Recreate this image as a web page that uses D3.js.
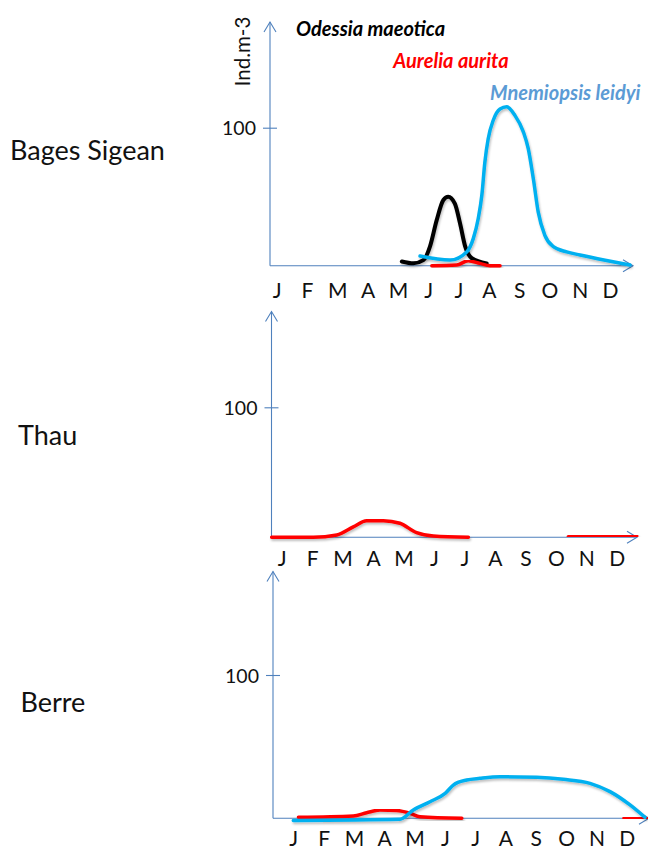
<!DOCTYPE html>
<html>
<head>
<meta charset="utf-8">
<script src="https://cdn.jsdelivr.net/npm/d3@7"></script>
<style>
  html, body { margin: 0; padding: 0; background: #ffffff; }
  svg { display: block; }
</style>
</head>
<body>
<svg id="chart" width="648" height="848"></svg>
<script>
// ---------------- DATA ----------------
const months = ["J","F","M","A","M","J","J","A","S","O","N","D"];
const sites = ["Bages Sigean", "Thau", "Berre"];
const yTickValues = [100];
const yAxisTitle = "Ind.m-3";
const speciesNames = ["Odessia maeotica", "Aurelia aurita", "Mnemiopsis leidyi"];

// [month position (0 = Jan), individuals per m3]
const bagesOdessia = [[4.13,3],[4.51,1.7],[4.84,4],[5.06,14],[5.28,33],[5.50,47.6],[5.66,50],[5.88,45],[6.05,30.7],[6.22,14],[6.44,5.4],[6.93,1.7]];
const bagesAurelia = [[5.12,0],[5.94,0.5],[6.32,3.6],[6.71,1.7],[7.04,0],[7.37,0]];
const bagesMnemiopsis = [[4.73,7],[5.72,4.1],[6.27,10],[6.49,19.8],[6.65,34],[6.77,51],[6.87,75],[6.98,92],[7.15,105.6],[7.37,113.6],[7.59,115.2],[7.86,109],[8.14,97],[8.30,85],[8.47,63],[8.63,39],[8.85,22],[9.13,13.8],[9.57,10],[10.01,7.8],[10.84,4],[11.66,0.5]];

const thauAureliaA = [[-0.33,0],[1.04,0],[1.81,1.8],[2.35,8],[2.79,12.8],[3.34,12.8],[3.88,10.8],[4.43,3.6],[4.98,1],[6.13,0]];
const thauAureliaB = [[9.41,0.5],[11.66,1]];

const berreAureliaA = [[0.17,0.7],[1.98,1.6],[2.42,3.9],[2.86,5.8],[3.41,5.4],[3.85,3.5],[4.18,1.1],[5.56,0]];
const berreAureliaB = [[10.91,0],[11.7,0.7]];
const berreMnemiopsis = [[0,-1.5],[3.52,-0.7],[3.96,5.8],[4.51,11.6],[5.01,17.4],[5.28,23.2],[5.72,26.7],[6.16,27.9],[6.82,29],[8.03,28.6],[8.91,27.2],[9.79,24.4],[10.45,18.6],[11.11,9.3],[11.6,0.7]];

// ---------------- STYLE / LAYOUT ----------------
const axisColor = "#4f81bd";
const colors = { odessia: "#000000", aurelia: "#ff0000", mnemiopsis: "#00b0f0" };
const widths = { odessia: 4, aurelia: 3.5, mnemiopsis: 3.5 };
const font = "Lato, 'Open Sans', sans-serif";

const panels = [
  { name: sites[0], nameX: 10, nameY: 160, axisX: 270, base: 265.7, top: 22, xEnd: 633, y100: 127.7,
    m0: 276.7, m11: 610, monthY: 297.5,
    series: [
      { data: bagesOdessia, key: "odessia" },
      { data: bagesMnemiopsis, key: "mnemiopsis" },
      { data: bagesAurelia, key: "aurelia" }
    ] },
  { name: sites[1], nameX: 18, nameY: 445, axisX: 271.5, base: 537.3, top: 311.5, xEnd: 637, y100: 407.3,
    m0: 281.7, m11: 616.7, monthY: 566.4,
    series: [
      { data: thauAureliaA, key: "aurelia" },
      { data: thauAureliaB, key: "aurelia" }
    ] },
  { name: sites[2], nameX: 20.5, nameY: 711.7, axisX: 273, base: 818.3, top: 571.5, xEnd: 649, y100: 675,
    m0: 293.3, m11: 626.7, monthY: 845.5,
    series: [
      { data: berreAureliaA, key: "aurelia" },
      { data: berreAureliaB, key: "aurelia" },
      { data: berreMnemiopsis, key: "mnemiopsis" }
    ] }
];

const svg = d3.select("#chart");
const defs = svg.append("defs");
defs.append("marker")
  .attr("id", "arrow")
  .attr("viewBox", "-12 -8 14 16")
  .attr("refX", 0).attr("refY", 0)
  .attr("markerWidth", 14).attr("markerHeight", 16)
  .attr("markerUnits", "userSpaceOnUse")
  .attr("orient", "auto")
  .append("path")
  .attr("d", "M-10,-6L0,0L-10,6")
  .attr("fill", "none")
  .attr("stroke", axisColor)
  .attr("stroke-width", 1.1);

const shadow = defs.append("filter").attr("id", "shadow")
  .attr("x", "-10%").attr("y", "-10%").attr("width", "120%").attr("height", "140%");
shadow.append("feDropShadow")
  .attr("dx", 1).attr("dy", 2).attr("stdDeviation", 1.2)
  .attr("flood-color", "#000").attr("flood-opacity", 0.25);

panels.forEach(p => {
  const x = d3.scaleLinear().domain([0, 11]).range([p.m0, p.m11]);
  const y = d3.scaleLinear().domain([0, 100]).range([p.base, p.y100]);
  const g = svg.append("g");

  // site name
  g.append("text")
    .attr("x", p.nameX).attr("y", p.nameY)
    .attr("font-family", font).attr("font-size", 27)
    .attr("fill", "#111")
    .text(p.name);

  // axes lines with arrows
  g.append("line")
    .attr("x1", p.axisX).attr("y1", p.base)
    .attr("x2", p.axisX).attr("y2", p.top)
    .attr("stroke", axisColor).attr("stroke-width", 1.1)
    .attr("marker-end", "url(#arrow)");
  g.append("line")
    .attr("x1", p.axisX).attr("y1", p.base)
    .attr("x2", p.xEnd).attr("y2", p.base)
    .attr("stroke", axisColor).attr("stroke-width", 1.1)
    .attr("marker-end", "url(#arrow)");

  // y tick 100
  const yAxis = g.append("g")
    .attr("transform", `translate(${p.axisX},0)`)
    .call(d3.axisLeft(y).tickValues(yTickValues).tickSize(7).tickPadding(7));
  yAxis.select(".domain").remove();
  yAxis.selectAll(".tick line").attr("x1", 7).attr("stroke", axisColor).attr("stroke-width", 1.1);
  yAxis.selectAll(".tick text")
    .attr("font-family", font).attr("font-size", 19.5).attr("fill", "#111")
    .attr("dy", "0.36em");

  // month labels
  const xAxis = g.append("g")
    .attr("transform", `translate(0,${p.monthY})`)
    .call(d3.axisBottom(x).tickValues(d3.range(12)).tickFormat(i => months[i]).tickSize(0));
  xAxis.select(".domain").remove();
  xAxis.selectAll(".tick text")
    .attr("y", 0).attr("dy", 0)
    .attr("font-family", font).attr("font-size", 21).attr("fill", "#111");

  // curves
  const line = d3.line()
    .x(d => x(d[0]))
    .y(d => y(d[1]))
    .curve(d3.curveMonotoneX);
  p.series.forEach(s => {
    g.append("path")
      .datum(s.data)
      .attr("d", line)
      .attr("fill", "none")
      .attr("stroke", colors[s.key])
      .attr("stroke-width", widths[s.key])
      .attr("stroke-linecap", "round")
      .attr("stroke-linejoin", "round")
      .attr("filter", "url(#shadow)");
  });
});

// y axis title (first panel)
svg.append("text")
  .attr("transform", "translate(249.5,51.5) rotate(-90)")
  .attr("text-anchor", "middle")
  .attr("font-family", font).attr("font-size", 20.5).attr("fill", "#111")
  .text(yAxisTitle);

// species labels
const speciesStyle = [
  { x: 296, y: 35.7, color: "#000000", size: 20 },
  { x: 393.3, y: 68.3, color: "#ff0000", size: 20 },
  { x: 490, y: 100, color: "#5b9bd5", size: 20 }
];
speciesNames.forEach((n, i) => {
  const s = speciesStyle[i];
  svg.append("text")
    .attr("x", s.x).attr("y", s.y)
    .attr("font-family", font).attr("font-size", s.size)
    .attr("font-weight", "bold").attr("font-style", "italic")
    .attr("fill", s.color)
    .text(n);
});
</script>
</body>
</html>
